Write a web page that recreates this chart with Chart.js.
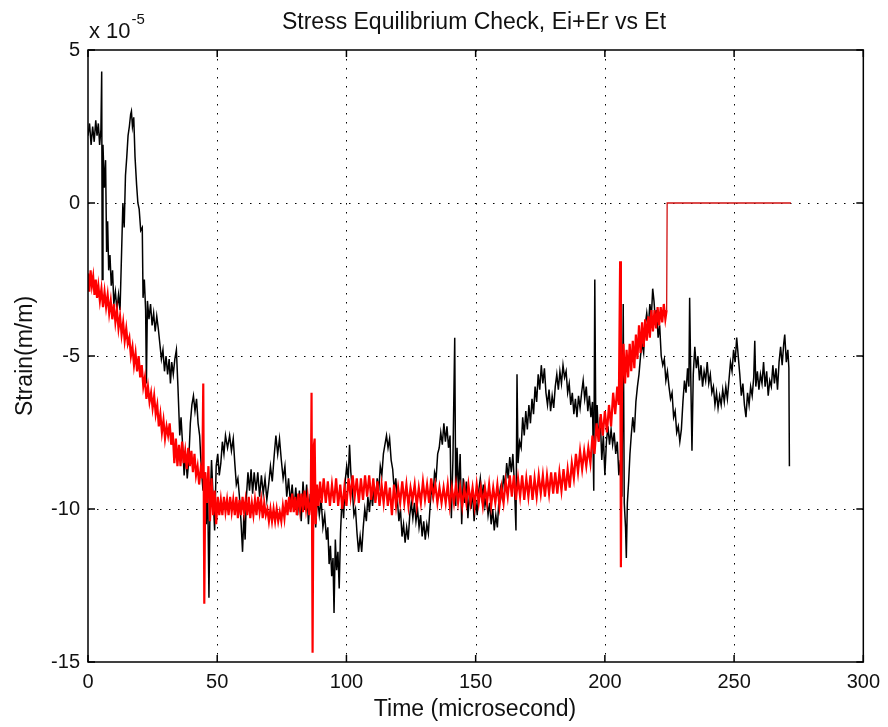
<!DOCTYPE html>
<html>
<head>
<meta charset="utf-8">
<script src="https://cdn.jsdelivr.net/npm/chart.js@4.4.1/dist/chart.umd.min.js"></script>
<style>
  body { margin: 0; background: #fff; }
  #wrap { width: 888px; height: 727px; }
</style>
</head>
<body>
<div id="wrap"><canvas id="eqChart" width="888" height="727"></canvas></div>
<script>
// strain values are in units of 1e-5 m/m (axis carries the "x 10^-5" multiplier)
const xTicks = [0, 50, 100, 150, 200, 250, 300];
const yTicks = [-15, -10, -5, 0, 5];

// Et (black): [time in microsecond, strain]
const etPoints = [
  [0,2.2],[0.6,2.6],[1.2,1.9],[1.8,2.5],[2.4,2.0],[3,2.7],[3.5,2.2],[4,2.6],[4.5,1.9],[5,2.4],
  [5.3,4.3],[5.5,-2.5],[5.8,1.9],[6.3,0.5],[6.8,1.4],[7.2,-1.6],[7.6,-0.6],[8,-2.2],[8.5,-1.7],[9,-2.7],
  [9.5,-2.2],[10,-3.3],[10.6,-2.9],[11.2,-3.5],[11.8,-3.0],[12.4,-3.5],[13,-1.6],[13.5,0.0],[14,-0.8],[14.5,0.9],
  [15,1.5],[15.5,2.2],[16,2.5],[16.5,2.9],[16.8,3.0],[17.2,2.5],[17.7,2.8],[18.2,1.5],[18.8,0.6],[19.3,0.0],
  [19.8,-0.2],[20.4,-0.9],[21,-0.8],[21.3,-3.1],[21.8,-2.5],[22.3,-3.5],[22.6,-5.9],[23,-3.2],[23.6,-3.8],[24.2,-3.3],
  [24.8,-4.0],[25.4,-3.6],[26,-4.2],[26.6,-3.7],[27.2,-4.1],[27.8,-4.6],[28.4,-5.1],[29,-4.8],[29.6,-5.5],[30.2,-5.0],
  [30.8,-5.6],[31.4,-5.1],[31.9,-5.9],[32.4,-5.2],[33,-5.6],[33.6,-5.1],[34.2,-4.8],[34.8,-6.0],[35.5,-7.6],[36,-7.0],
  [36.6,-7.9],[37.2,-8.9],[37.8,-8.2],[38.4,-9.0],[39,-8.4],[39.6,-7.2],[40.2,-6.6],[40.8,-6.3],[41.4,-6.8],[42,-6.4],
  [42.6,-7.2],[43.2,-7.6],[43.8,-8.6],[44.5,-9.4],[45.2,-8.8],[45.8,-10.5],[46.3,-9.2],[46.8,-12.9],[47.2,-10.0],[47.8,-8.4],
  [48.4,-9.6],[49,-10.7],[49.6,-8.6],[50.2,-8.2],[50.8,-8.9],[51.4,-8.5],[52,-7.8],[52.6,-8.2],[53.2,-7.6],[54,-8.0],
  [54.8,-7.6],[55.5,-8.1],[56.2,-7.7],[56.8,-8.5],[57.4,-9.2],[58,-9.0],[58.6,-9.6],[59.2,-10.4],[59.8,-11.4],[60.3,-10.2],
  [60.8,-11.0],[61.3,-9.6],[61.9,-8.8],[62.5,-9.4],[63.1,-8.7],[63.7,-9.5],[64.3,-8.8],[65,-9.4],[65.7,-8.8],[66.4,-9.6],
  [67.1,-8.9],[67.8,-9.5],[68.5,-9.0],[69.2,-9.7],[69.9,-9.2],[70.6,-8.6],[71.3,-9.1],[72,-8.3],[72.7,-7.6],[73.4,-8.2],
  [74.1,-7.7],[74.8,-8.4],[75.5,-9.0],[76.2,-8.6],[76.9,-9.6],[77.6,-9.0],[78.3,-9.8],[79,-9.2],[79.7,-10.0],[80.4,-9.3],
  [81.1,-10.2],[81.8,-9.4],[82.5,-10.4],[83.2,-9.1],[83.9,-10.0],[84.6,-9.2],[85.3,-10.5],[86,-9.5],[86.7,-10.1],[87.4,-9.3],
  [88.1,-10.6],[88.8,-9.6],[89.5,-10.2],[90.2,-9.7],[90.9,-10.6],[91.6,-10.2],[92.3,-11.0],[92.8,-10.6],[93.3,-11.8],[93.8,-11.2],
  [94.3,-12.2],[94.8,-11.6],[95.2,-13.4],[95.7,-11.0],[96.2,-12.0],[96.7,-11.4],[97.2,-12.6],[97.7,-10.8],[98.3,-9.6],[98.9,-10.3],
  [99.5,-9.1],[100.1,-8.6],[100.7,-9.0],[101.2,-7.9],[101.7,-8.8],[102.3,-9.4],[102.9,-10.2],[103.5,-10.0],[104.1,-10.8],[104.7,-11.4],
  [105.3,-10.9],[105.9,-11.4],[106.5,-10.6],[107.1,-10.0],[107.7,-10.4],[108.3,-9.6],[108.9,-10.1],[109.5,-9.4],[110.1,-9.9],[110.7,-9.2],
  [111.3,-9.7],[111.9,-9.0],[112.5,-9.4],[113.1,-8.6],[113.7,-8.9],[114.3,-8.2],[114.9,-7.9],[115.5,-7.6],[116.1,-8.0],[116.7,-7.7],
  [117.3,-8.4],[117.9,-8.7],[118.5,-9.4],[119.1,-9.0],[119.7,-9.7],[120.3,-10.4],[120.9,-10.0],[121.5,-10.9],[122.1,-10.5],[122.7,-11.1],
  [123.3,-10.6],[123.9,-11.0],[124.5,-10.2],[125.1,-9.8],[125.7,-10.3],[126.3,-9.8],[126.9,-10.4],[127.5,-10.0],[128.1,-10.6],[128.7,-10.2],
  [129.3,-10.9],[129.9,-10.4],[130.5,-11.0],[131.1,-10.5],[131.7,-10.8],[132.3,-10.0],[132.9,-9.3],[133.5,-9.6],[134.1,-8.8],[134.7,-9.0],
  [135.3,-8.2],[135.9,-8.0],[136.5,-7.5],[137.1,-7.9],[137.7,-7.2],[138.3,-7.8],[138.9,-7.3],[139.5,-8.0],[140.1,-7.6],[140.6,-10.3],
  [141.2,-8.4],[141.9,-4.4],[142.3,-9.9],[142.8,-8.0],[143.4,-9.5],[144,-8.2],[144.6,-10.5],[145.2,-9.0],[145.8,-9.8],[146.4,-9.1],
  [147,-10.3],[147.6,-9.5],[148.2,-10.0],[148.8,-9.4],[149.4,-10.4],[150,-9.7],[150.6,-10.2],[151.2,-9.4],[151.8,-9.0],[152.4,-9.6],
  [153,-9.2],[153.6,-9.9],[154.2,-9.6],[154.8,-10.2],[155.4,-9.8],[156,-10.5],[156.6,-10.0],[157.2,-10.7],[157.8,-10.2],[158.4,-10.6],
  [159,-9.7],[159.6,-9.3],[160.2,-9.6],[160.8,-8.9],[161.4,-9.3],[162,-8.5],[162.6,-9.0],[163.2,-8.3],[163.8,-8.8],[164.4,-8.2],
  [165,-9.2],[165.6,-10.7],[166,-5.6],[166.4,-8.5],[167,-7.8],[167.6,-8.0],[168.2,-7.0],[168.8,-7.6],[169.4,-6.8],[170,-7.4],
  [170.6,-6.6],[171.2,-7.2],[171.8,-6.4],[172.4,-6.9],[173,-6.0],[173.6,-6.5],[174.2,-5.6],[174.8,-6.1],[175.4,-5.3],[176,-5.9],
  [176.6,-5.4],[177.2,-6.2],[177.8,-6.6],[178.4,-6.1],[179,-6.8],[179.6,-6.3],[180.2,-6.7],[180.8,-6.0],[181.4,-5.6],[182,-6.1],
  [182.6,-5.5],[183.2,-5.9],[183.8,-5.3],[184.4,-5.7],[185,-5.5],[185.6,-6.2],[186.2,-5.9],[186.8,-6.6],[187.4,-6.2],[188,-6.9],
  [188.6,-6.4],[189.2,-7.0],[189.8,-6.3],[190.4,-6.7],[191,-6.2],[191.6,-5.8],[192.2,-6.4],[192.8,-6.0],[193.4,-6.8],[194,-6.3],
  [194.6,-7.0],[195.2,-6.5],[195.7,-9.4],[196.1,-2.5],[196.5,-7.5],[197,-6.6],[197.6,-7.8],[198.2,-7.0],[198.8,-8.4],[199.4,-7.6],
  [200,-8.9],[200.6,-7.8],[201.2,-7.3],[201.8,-7.9],[202.4,-7.4],[203,-7.9],[203.6,-7.5],[204.2,-8.2],[204.8,-7.8],[205.4,-8.9],
  [206,-8.4],[206.6,-9.6],[207.1,-3.3],[207.5,-9.8],[208,-10.6],[208.3,-11.6],[208.7,-9.8],[209.2,-9.1],[209.7,-8.2],[210.2,-7.6],
  [210.8,-7.0],[211.4,-7.5],[212,-6.5],[212.6,-6.0],[213.2,-5.6],[213.8,-5.0],[214.4,-4.6],[215,-4.9],[215.6,-4.0],[216.2,-3.6],
  [216.8,-4.1],[217.4,-3.3],[218,-3.7],[218.5,-2.8],[219,-3.2],[219.5,-3.8],[220,-3.5],[220.6,-4.4],[221.2,-4.0],[221.8,-5.0],
  [222.4,-5.3],[223,-5.1],[223.6,-5.8],[224.2,-5.5],[224.8,-6.0],[225.4,-6.4],[226,-6.2],[226.6,-7.0],[227.2,-6.8],[227.8,-7.5],
  [228.4,-7.3],[229,-7.8],[229.6,-7.4],[230.2,-6.5],[230.8,-5.8],[231.4,-6.2],[232,-5.4],[232.5,-6.0],[232.8,-3.1],[233.2,-5.5],
  [233.7,-8.1],[234.2,-5.6],[234.8,-4.7],[235.4,-5.4],[236,-5.0],[236.6,-5.8],[237.2,-5.3],[237.8,-6.0],[238.4,-5.5],[239,-5.8],
  [239.6,-5.2],[240.2,-5.9],[240.8,-5.6],[241.4,-6.2],[242,-6.0],[242.6,-6.6],[243.2,-6.2],[243.8,-6.7],[244.4,-6.3],[245,-6.6],
  [245.6,-6.1],[246.2,-6.5],[246.8,-6.0],[247.4,-6.4],[248,-5.8],[248.6,-5.2],[249.2,-5.5],[249.8,-4.8],[250.4,-5.2],[251,-4.4],
  [251.6,-5.0],[252.2,-5.6],[252.8,-6.3],[253.4,-5.9],[254,-6.6],[254.6,-7.0],[255.2,-6.2],[255.8,-6.6],[256.4,-6.0],[257,-6.3],
  [257.6,-5.7],[258,-4.5],[258.4,-6.0],[259,-5.5],[259.6,-6.1],[260.2,-5.6],[260.8,-5.9],[261.4,-5.2],[262,-6.0],[262.6,-5.5],
  [263.2,-6.3],[263.8,-5.8],[264.4,-6.0],[265,-5.3],[265.6,-5.9],[266.2,-5.4],[266.8,-6.1],[267.4,-5.2],[268,-4.7],[268.6,-5.3],
  [269.2,-4.6],[269.6,-4.3],[270.2,-5.2],[270.8,-4.8],[271.2,-5.4],[271.4,-8.6]
];

// Ei+Er (red), noisy part up to the jump
const eiErPoints = [
  [0,-2.3],[0.5,-2.9],[1,-2.2],[1.5,-2.7],[2,-2.4],[2.5,-3.0],[3,-2.5],[3.5,-3.1],[4,-2.7],[4.6,-3.2],
  [5.2,-2.8],[5.8,-3.4],[6.4,-2.9],[7,-3.4],[7.6,-3.0],[8.2,-3.6],[8.8,-3.2],[9.4,-3.8],[10,-3.3],[10.6,-3.9],
  [11.2,-3.5],[11.8,-4.1],[12.4,-3.7],[13,-4.3],[13.6,-3.9],[14.2,-4.5],[14.8,-4.1],[15.4,-4.6],[16,-4.4],[16.6,-5.0],
  [17.2,-4.7],[17.8,-5.3],[18.4,-4.9],[19,-5.5],[19.6,-5.0],[20.2,-5.7],[20.8,-5.3],[21.4,-6.0],[22,-5.7],[22.6,-6.4],
  [23.2,-6.0],[23.8,-6.5],[24.4,-6.2],[25,-6.7],[25.6,-6.3],[26.2,-6.9],[26.8,-6.6],[27.4,-7.3],[28,-6.9],[28.6,-7.5],
  [29.2,-7.1],[29.8,-7.7],[30.4,-7.3],[31,-7.6],[31.6,-7.2],[32.2,-7.9],[32.8,-7.5],[33.4,-8.5],[34,-7.7],[34.6,-8.6],
  [35.2,-7.9],[35.8,-8.6],[36.4,-7.8],[37,-8.5],[37.6,-8.1],[38.2,-8.7],[38.8,-8.0],[39.4,-8.6],[40,-8.1],[40.6,-8.8],
  [41.2,-8.2],[41.8,-8.9],[42.4,-8.6],[43,-9.2],[43.6,-8.7],[44.2,-9.0],[44.6,-5.9],[45,-13.1],[45.4,-8.8],[46,-9.8],
  [46.6,-8.6],[47.2,-10.4],[47.8,-9.0],[48.4,-10.2],[49,-9.4],[49.6,-10.5],[50.2,-9.6],[50.8,-10.2],[51.4,-9.7],[52,-10.2],
  [52.6,-9.6],[53.2,-10.1],[53.8,-9.7],[54.4,-10.2],[55,-9.6],[55.6,-10.1],[56.2,-9.7],[56.8,-10.2],[57.4,-9.6],[58,-10.3],
  [58.6,-9.7],[59.2,-10.2],[59.8,-9.6],[60.4,-10.1],[61,-9.7],[61.6,-10.2],[62.2,-9.6],[62.8,-10.3],[63.4,-9.8],[64,-10.2],
  [64.6,-9.7],[65.2,-10.2],[65.8,-9.6],[66.4,-10.1],[67,-9.7],[67.6,-10.3],[68.2,-9.8],[68.8,-10.2],[69.4,-10.0],[70,-10.4],
  [70.6,-10.0],[71.2,-10.4],[71.8,-10.0],[72.4,-10.4],[73,-10.0],[73.6,-10.4],[74.2,-10.1],[74.8,-10.4],[75.4,-9.9],[76,-10.3],
  [76.6,-9.7],[77.2,-10.2],[77.8,-9.6],[78.4,-10.1],[79,-9.5],[79.6,-10.1],[80.2,-9.6],[80.8,-10.2],[81.4,-9.5],[82,-10.0],
  [82.6,-9.5],[83.2,-10.1],[83.8,-9.4],[84.4,-10.0],[85,-9.6],[85.6,-10.2],[86.2,-9.7],[86.5,-6.2],[86.9,-14.7],[87.3,-8.0],
  [87.7,-7.7],[88.1,-10.5],[88.6,-9.2],[89.2,-9.9],[89.8,-9.1],[90.4,-9.8],[91.2,-9.0],[92,-9.8],[92.8,-9.1],[93.6,-9.9],
  [94.4,-9.2],[95.2,-9.8],[96,-9.0],[96.8,-9.9],[97.6,-9.2],[98.4,-10.0],[99.2,-9.3],[100,-9.9],[100.8,-9.0],[101.6,-9.6],
  [102.4,-8.9],[103.2,-9.6],[104,-9.0],[104.8,-9.8],[105.6,-9.0],[106.4,-9.7],[107.2,-8.9],[108,-9.6],[108.8,-8.9],[109.6,-9.7],
  [110.4,-9.0],[111.2,-9.8],[112,-9.1],[112.8,-9.9],[113.6,-9.2],[114.4,-9.8],[115.2,-9.1],[116,-9.9],[116.8,-9.3],[117.6,-10.2],
  [118.4,-9.2],[119.2,-9.9],[120,-9.3],[120.8,-9.8],[121.6,-9.1],[122.4,-9.8],[123.2,-9.2],[124,-9.9],[124.8,-9.3],[125.6,-9.7],
  [126.4,-9.2],[127.2,-9.9],[128,-9.3],[128.8,-9.8],[129.6,-9.1],[130.4,-9.7],[131.2,-9.2],[132,-9.8],[132.8,-9.0],[133.6,-9.6],
  [134.4,-9.2],[135.2,-9.8],[136,-9.3],[136.8,-9.8],[137.6,-9.3],[138.4,-9.8],[139.2,-9.2],[140,-9.9],[140.8,-9.3],[141.6,-9.8],
  [142.4,-9.2],[143.2,-9.8],[144,-9.3],[144.8,-9.9],[145.6,-9.3],[146.4,-9.8],[147.2,-9.2],[148,-9.8],[148.8,-9.3],[149.6,-9.9],
  [150.4,-9.2],[151.2,-9.8],[152,-9.3],[152.8,-9.9],[153.6,-9.3],[154.4,-9.8],[155.2,-9.2],[156,-9.9],[156.8,-9.3],[157.6,-9.8],
  [158.4,-9.2],[159.2,-9.9],[160,-9.3],[160.8,-9.8],[161.6,-9.1],[162.4,-9.6],[163.2,-8.9],[164,-9.6],[164.8,-8.9],[165.6,-9.7],
  [166.4,-9.0],[167.2,-9.6],[168,-8.9],[168.8,-9.7],[169.6,-9.0],[170.4,-9.6],[171.2,-8.9],[172,-9.7],[172.8,-9.0],[173.6,-9.6],
  [174.4,-8.9],[175.2,-9.5],[176,-8.9],[176.8,-9.6],[177.6,-8.9],[178.4,-9.5],[179.2,-8.8],[180,-9.5],[180.8,-8.8],[181.6,-9.5],
  [182.4,-8.8],[183.2,-9.4],[184,-8.7],[184.8,-9.4],[185.6,-8.7],[186.4,-9.3],[187.2,-8.5],[188,-9.0],[188.8,-8.2],[189.6,-8.8],
  [190.4,-8.1],[191.2,-8.7],[192,-8.1],[192.8,-8.6],[193.6,-8.0],[194.4,-8.5],[195.2,-7.6],[196,-8.2],[196.8,-7.2],[197.6,-7.8],
  [198.4,-6.9],[199.2,-7.6],[200,-6.8],[200.8,-7.5],[201.6,-6.6],[202.4,-7.3],[203.2,-6.2],[204,-6.9],[204.8,-6.0],[205.4,-6.6],
  [205.9,-1.9],[206.2,-11.9],[206.6,-6.2],[207.2,-4.6],[207.8,-5.9],[208.4,-4.8],[209,-5.7],[209.6,-4.6],[210.2,-5.5],[210.8,-4.5],
  [211.4,-5.4],[212,-4.3],[212.6,-5.1],[213.2,-4.0],[213.8,-4.9],[214.4,-3.9],[215,-4.7],[215.6,-3.8],[216.2,-4.5],[216.8,-3.7],
  [217.4,-4.4],[218,-3.5],[218.6,-4.2],[219.2,-3.5],[219.8,-4.1],[220.4,-3.4],[221,-4.0],[221.6,-3.4],[222.2,-3.9],[222.8,-3.3],
  [223.4,-3.8],[223.9,-3.5]
];

// Ei+Er (red) after the jump to zero
const eiErTail = [[223.9,-3.5],[224.1,0],[272,0]];

const toXY = pts => pts.map(p => ({ x: p[0], y: p[1] }));

const FONT = 'Arial, "Liberation Sans", sans-serif';

const matlabAxes = {
  id: 'matlabAxes',
  beforeDatasetsDraw(chart) {
    const { ctx, chartArea: a, scales: { x, y } } = chart;
    ctx.save();
    ctx.strokeStyle = '#000';
    ctx.lineWidth = 1;
    ctx.setLineDash([1.5, 7.5]);
    xTicks.forEach(v => {
      const px = Math.round(x.getPixelForValue(v)) + 0.5;
      if (px <= a.left + 1 || px >= a.right - 1) return;
      ctx.beginPath(); ctx.moveTo(px, a.top); ctx.lineTo(px, a.bottom); ctx.stroke();
    });
    yTicks.forEach(v => {
      const py = Math.round(y.getPixelForValue(v)) + 0.5;
      if (py <= a.top + 1 || py >= a.bottom - 1) return;
      ctx.beginPath(); ctx.moveTo(a.left, py); ctx.lineTo(a.right, py); ctx.stroke();
    });
    ctx.restore();
  },
  afterDatasetsDraw(chart) {
    const { ctx, chartArea: a, scales: { x, y } } = chart;
    ctx.save();
    ctx.strokeStyle = '#000';
    ctx.lineWidth = 1.5;
    ctx.strokeRect(a.left, a.top, a.right - a.left, a.bottom - a.top);
    const tl = 7;
    ctx.beginPath();
    xTicks.forEach(v => {
      const px = x.getPixelForValue(v);
      ctx.moveTo(px, a.bottom); ctx.lineTo(px, a.bottom - tl);
      ctx.moveTo(px, a.top); ctx.lineTo(px, a.top + tl);
    });
    yTicks.forEach(v => {
      const py = y.getPixelForValue(v);
      ctx.moveTo(a.left, py); ctx.lineTo(a.left + tl, py);
      ctx.moveTo(a.right, py); ctx.lineTo(a.right - tl, py);
    });
    ctx.stroke();

    // texts
    ctx.fillStyle = '#111';
    ctx.textBaseline = 'middle';
    ctx.textAlign = 'center';
    ctx.font = '23px ' + FONT;
    ctx.fillText('Stress Equilibrium Check, Ei+Er vs Et', 474, 23);
    ctx.fillText('Time (microsecond)', 475, 710);

    ctx.save();
    ctx.translate(26, (a.top + a.bottom) / 2);
    ctx.rotate(-Math.PI / 2);
    ctx.fillText('Strain(m/m)', 0, 0);
    ctx.restore();

    ctx.textAlign = 'left';
    ctx.textBaseline = 'alphabetic';
    ctx.font = '22px ' + FONT;
    ctx.fillText('x 10', a.left + 1, 38);
    const w = ctx.measureText('x 10').width;
    ctx.font = '15px ' + FONT;
    ctx.fillText('-5', a.left + 1 + w + 1, 24);
    ctx.restore();
  }
};

new Chart(document.getElementById('eqChart'), {
  type: 'line',
  data: {
    datasets: [
      {
        label: 'Ei+Er',
        data: toXY(eiErPoints),
        borderColor: '#ff0000',
        borderWidth: 2.2,
        pointRadius: 0,
        tension: 0,
        order: 0
      },
      {
        label: 'Ei+Er tail',
        data: toXY(eiErTail),
        borderColor: '#d01010',
        borderWidth: 1.3,
        pointRadius: 0,
        tension: 0,
        order: 1
      },
      {
        label: 'Et',
        data: toXY(etPoints),
        borderColor: '#000000',
        borderWidth: 1.5,
        pointRadius: 0,
        tension: 0,
        order: 2
      }
    ]
  },
  options: {
    responsive: false,
    animation: false,
    layout: { padding: { left: 0, top: 50, right: 22, bottom: 0 } },
    plugins: {
      legend: { display: false },
      tooltip: { enabled: false },
      title: { display: false }
    },
    scales: {
      x: {
        type: 'linear',
        min: 0,
        max: 300,
        afterBuildTicks: s => { s.ticks = xTicks.map(v => ({ value: v })); },
        afterFit: s => { s.height = 65; },
        grid: { display: false, drawTicks: false },
        border: { display: false },
        ticks: { color: '#111', font: { size: 20, family: FONT }, padding: 8, maxRotation: 0 }
      },
      y: {
        type: 'linear',
        min: -15,
        max: 5,
        afterBuildTicks: s => { s.ticks = yTicks.map(v => ({ value: v })); },
        afterFit: s => { s.width = 88; },
        grid: { display: false, drawTicks: false },
        border: { display: false },
        ticks: { color: '#111', font: { size: 20, family: FONT }, padding: 8 }
      }
    }
  },
  plugins: [matlabAxes]
});
</script>
</body>
</html>
